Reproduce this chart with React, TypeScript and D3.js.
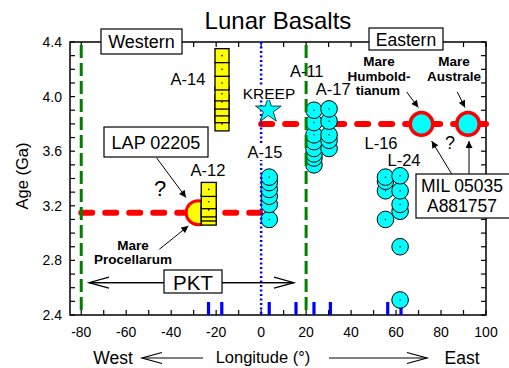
import React from "react";
import * as d3 from "d3";

const WIDTH = 509;
const HEIGHT = 368;
const FONT = "'Liberation Sans', Arial, Helvetica, sans-serif";

// axes
const lonDomain = [-85, 100];
const ageDomain = [2.4, 4.4];
const lonTickLabels = [-80, -60, -40, -20, 0, 20, 40, 60, 80, 100];
const ageTickLabels = [2.4, 2.8, 3.2, 3.6, 4.0, 4.4];

// landing site longitudes (blue marks on x axis)
const landingSiteLons = [-23.4, -17.5, 3.6, 15.5, 23.5, 30.8, 56.3, 62.2];

// PKT boundaries and KREEP line
const pktEdgeLons = [-80, 20];
const kreepLineLon = 0;

// sample ages (Ga)
const a12Lon = -23.3;
const a12Ages = [3.11, 3.14, 3.17, 3.23, 3.32];
const a14Lon = -17.4;
const a14Ages = [3.8, 3.86, 3.91, 3.96, 4.02, 4.1, 4.2, 4.3];
const a15Lon = 3.6;
const a15Ages = [3.1, 3.21, 3.27, 3.32, 3.37, 3.41];
const a11Lon = 23.5;
const a11Ages = [3.5, 3.55, 3.58, 3.62, 3.67, 3.72, 3.81, 3.9];
const a17Lon = 30.2;
const a17Ages = [3.62, 3.68, 3.72, 3.82, 3.91];
const l16Lon = 55.3;
const l16Ages = [3.1, 3.31, 3.38, 3.41];
const l24Lon = 61.8;
const l24Ages = [2.51, 2.9, 3.16, 3.21, 3.31, 3.42];

const kreepStar = { lon: 3.2, age: 3.9 };

// trend lines for meteorites / mare
const westTrend = { lon0: -80, lon1: 0, age: 3.15 };
const eastTrend = { lon0: 0, lon1: 100, age: 3.8 };
const mareProcellarum = { lon: -28, age: 3.15 };
const mareEast = [
  { name: "Humboldtianum", lon: 71.3, age: 3.8 },
  { name: "Australe", lon: 92, age: 3.8 },
];

const squareCols = [
  { lon: a12Lon, ages: a12Ages, w: 15 },
  { lon: a14Lon, ages: a14Ages, w: 14 },
];
const circleCols = [
  { lon: a15Lon, ages: a15Ages },
  { lon: a11Lon, ages: a11Ages },
  { lon: a17Lon, ages: a17Ages },
  { lon: l16Lon, ages: l16Ages },
  { lon: l24Lon, ages: l24Ages },
];

function OpenArrow({ x1, x2, y, dir }: { x1: number; x2: number; y: number; dir: "left" | "right" }) {
  const tip = dir === "left" ? x1 : x2;
  const back = dir === "left" ? tip + 20 : tip - 20;
  return (
    <g stroke="#000" strokeWidth={1.2} fill="none">
      <line x1={x1} y1={y} x2={x2} y2={y} />
      <polyline points={`${back},${y - 5.5} ${tip},${y} ${back},${y + 5.5}`} />
    </g>
  );
}

function Box({ x, y, w, h }: { x: number; y: number; w: number; h: number }) {
  return <rect x={x} y={y} width={w} height={h} fill="#fff" stroke="#000" strokeWidth={1.2} />;
}

export default function App() {
  const x = d3.scaleLinear().domain(lonDomain).range([70, 486]);
  const y = d3.scaleLinear().domain(ageDomain).range([315, 42]);
  const [x0, x1] = x.range();
  const [y0, y1] = y.range();
  const minorLon = d3.range(-80, 101, 10);
  const minorAge = d3.range(24, 45, 1).map((d) => d / 10);
  const star = d3.symbol(d3.symbolStar, 205)();
  const r = 8.3;

  const leaders = [
    [156.7, 158, 186, 197.5],
    [159.3, 249.3, 188.3, 226],
    [406.7, 92, 418.3, 107.5],
    [457.3, 92, 465, 107.5],
    [451.7, 174, 431.7, 141],
    [469, 174, 469, 141],
  ];

  return (
    <svg width={WIDTH} height={HEIGHT} style={{ position: "absolute", left: 0, top: 0, background: "#fff" }} fontFamily={FONT}>
      <defs>
        <marker id="head" viewBox="0 0 10 10" refX={10} refY={5} markerWidth={8} markerHeight={7} markerUnits="userSpaceOnUse" orient="auto">
          <path d="M0,0 L10,5 L0,10 z" fill="#000" />
        </marker>
      </defs>

      <text x={278} y={29} textAnchor="middle" fontSize={24}>Lunar Basalts</text>

      {/* frame and ticks */}
      <rect x={x0} y={y1} width={x1 - x0} height={y0 - y1} fill="none" stroke="#000" strokeWidth={1.5} />
      {minorLon.map((d) => (
        <g key={"xt" + d} stroke="#000" strokeWidth={1.2}>
          <line x1={x(d)} x2={x(d)} y1={y0} y2={y0 - 5} />
          <line x1={x(d)} x2={x(d)} y1={y1} y2={y1 + 5} />
        </g>
      ))}
      {minorAge.map((d) => (
        <g key={"yt" + d} stroke="#000" strokeWidth={1.2}>
          <line x1={x0} x2={x0 + 5} y1={y(d)} y2={y(d)} />
          <line x1={x1} x2={x1 - 5} y1={y(d)} y2={y(d)} />
        </g>
      ))}
      {lonTickLabels.map((d) => (
        <text key={"xl" + d} x={x(d)} y={337} textAnchor="middle" fontSize={14}>{d}</text>
      ))}
      {ageTickLabels.map((d) => (
        <text key={"yl" + d} x={62} y={y(d)} dy="0.35em" textAnchor="end" fontSize={14}>{d.toFixed(1)}</text>
      ))}
      <text transform={`translate(28,176) rotate(-90)`} textAnchor="middle" fontSize={16.5}>Age (Ga)</text>
      <text x={113} y={364} textAnchor="middle" fontSize={17.5}>West</text>
      <text x={263} y={363} textAnchor="middle" fontSize={16.5}>Longitude (°)</text>
      <text x={462} y={364} textAnchor="middle" fontSize={17.5}>East</text>
      <OpenArrow x1={142} x2={203} y={358} dir="left" />
      <OpenArrow x1={329} x2={427} y={358} dir="right" />

      {/* landing sites */}
      {landingSiteLons.map((d) => (
        <rect key={"ls" + d} x={x(d) - 1.6} y={y0 - 13} width={3.2} height={13} fill="#0000ff" />
      ))}

      {/* red trend lines */}
      {[westTrend, eastTrend].map((t, i) => (
        <line key={"tr" + i} x1={x(t.lon0)} x2={x(t.lon1)} y1={y(t.age)} y2={y(t.age)} stroke="#ff0000" strokeWidth={6} strokeDasharray="11 13" strokeLinecap="round" />
      ))}
      <circle cx={x(mareProcellarum.lon)} cy={y(mareProcellarum.age)} r={12} fill="#ffff00" stroke="#ff0000" strokeWidth={3} />
      {mareEast.map((m) => (
        <circle key={m.name} cx={x(m.lon)} cy={y(m.age)} r={11.3} fill="#00ffff" stroke="#ff0000" strokeWidth={3.5} />
      ))}

      {/* squares */}
      {squareCols.map((c, i) =>
        c.ages.map((a) => (
          <g key={"sq" + i + a}>
            <rect x={x(c.lon) - c.w / 2} y={y(a) - 7} width={c.w} height={14} fill="#ffff00" stroke="#000" strokeWidth={1.3} />
            <circle cx={x(c.lon)} cy={y(a)} r={0.8} fill="#000" />
          </g>
        ))
      )}

      {/* circles */}
      {circleCols.map((c, i) =>
        c.ages.map((a) => (
          <g key={"ci" + i + a}>
            <circle cx={x(c.lon)} cy={y(a)} r={r} fill="#00ffff" stroke="#000" strokeWidth={1} />
            <circle cx={x(c.lon)} cy={y(a)} r={0.7} fill="#000" />
          </g>
        ))
      )}

      {/* vertical reference lines */}
      {pktEdgeLons.map((d) => (
        <line key={"pk" + d} x1={x(d)} x2={x(d)} y1={y1 + 3} y2={y0} stroke="#008000" strokeWidth={3} strokeDasharray="13 5" />
      ))}
      <line x1={x(kreepLineLon)} x2={x(kreepLineLon)} y1={y1} y2={y0} stroke="#0000ff" strokeWidth={2.5} strokeDasharray="2 2.5" />

      <path d={star ?? ""} transform={`translate(${x(kreepStar.lon)},${y(kreepStar.age)})`} fill="#00ffff" stroke="#00484a" strokeWidth={1} />

      {/* labels */}
      <rect x={241} y={86} width={56} height={14} fill="#fff" />
      <text x={269} y={99} textAnchor="middle" fontSize={15.5}>KREEP</text>
      <rect x={245} y={145} width={40} height={15} fill="#fff" />
      <text x={265} y={158} textAnchor="middle" fontSize={16.5}>A-15</text>
      <text x={188} y={85} textAnchor="middle" fontSize={16.5}>A-14</text>
      <text x={208} y={176} textAnchor="middle" fontSize={16.5}>A-12</text>
      <text x={306.7} y={77} textAnchor="middle" fontSize={16.5}>A-11</text>
      <text x={333.3} y={95} textAnchor="middle" fontSize={16.5}>A-17</text>
      <text x={381} y={149} textAnchor="middle" fontSize={16.5}>L-16</text>
      <text x={404} y={166} textAnchor="middle" fontSize={16.5}>L-24</text>
      <text x={160} y={196} textAnchor="middle" fontSize={22}>?</text>
      <text x={450} y={149} textAnchor="middle" fontSize={18}>?</text>

      <g fontWeight="bold" fontSize={13.5} textAnchor="middle">
        <text x={133} y={250}>Mare</text>
        <text x={133} y={264}>Procellarum</text>
        <text x={379} y={66}>Mare</text>
        <text x={379} y={81}>Humbold-</text>
        <text x={378} y={95}>tianum</text>
        <text x={454} y={66}>Mare</text>
        <text x={454} y={81}>Australe</text>
      </g>

      {leaders.map((l, i) => (
        <line key={"ld" + i} x1={l[0]} y1={l[1]} x2={l[2]} y2={l[3]} stroke="#000" strokeWidth={1} markerEnd="url(#head)" />
      ))}

      <Box x={101} y={29} w={81} h={25} />
      <text x={141.5} y={48} textAnchor="middle" fontSize={18}>Western</text>
      <Box x={369} y={28} w={74} h={22} />
      <text x={406} y={45.5} textAnchor="middle" fontSize={17.5}>Eastern</text>
      <Box x={104} y={127} w={104} h={30} />
      <text x={156} y={149} textAnchor="middle" fontSize={18}>LAP 02205</text>
      <Box x={416} y={174} w={100} h={44} />
      <text x={462} y={192} textAnchor="middle" fontSize={17.5}>MIL 05035</text>
      <text x={462} y={212} textAnchor="middle" fontSize={17.5}>A881757</text>

      <OpenArrow x1={89} x2={294} y={282.7} dir="left" />
      <OpenArrow x1={89} x2={294} y={282.7} dir="right" />
      <Box x={164} y={270} w={58} h={23} />
      <text x={193} y={290} textAnchor="middle" fontSize={20.5}>PKT</text>
    </svg>
  );
}
